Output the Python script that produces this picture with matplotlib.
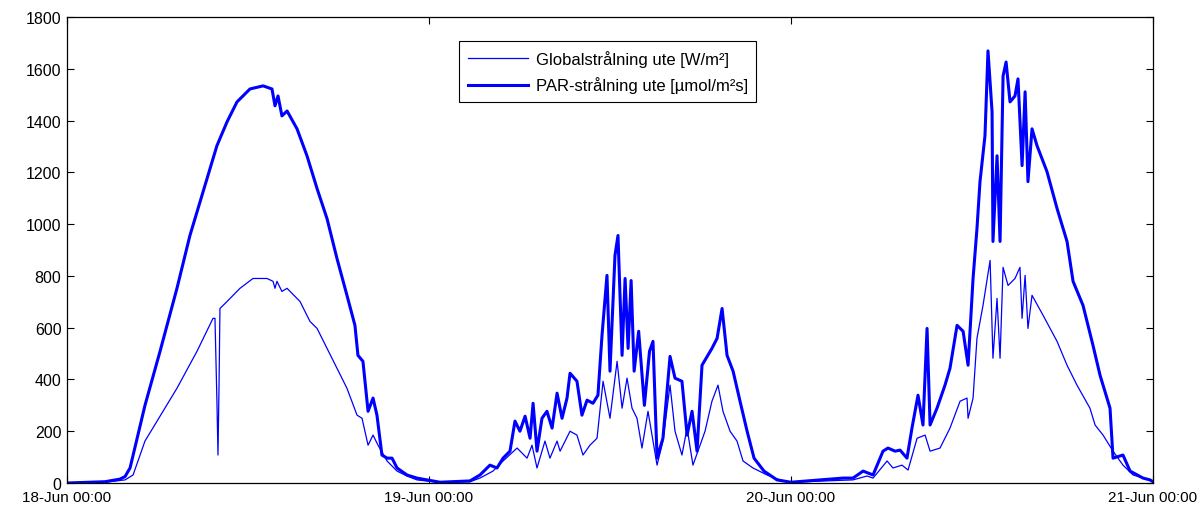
import matplotlib
matplotlib.use('Agg')
import matplotlib.pyplot as plt
import matplotlib.dates as mdates
import numpy as np
import pandas as pd

plt.rcParams['font.family'] = ['Liberation Sans', 'DejaVu Sans']

start = pd.Timestamp('2013-06-18 00:00')

# hours since 18-Jun 00:00
par_h = [0, 2.52, 3.51, 3.85, 4.18, 5.17, 6.17, 7.29, 8.15, 9.02, 9.94, 10.61, 11.27,
         12.13, 13.0, 13.59, 13.79, 13.99, 14.25, 14.59, 15.25, 15.91, 16.58, 17.24,
         17.9, 18.56, 19.09, 19.29, 19.62, 19.96, 20.29, 20.55, 20.88, 21.22, 21.55,
         21.88, 22.54, 23.2, 23.87, 24.73,
         26.72, 27.38, 28.04, 28.51, 28.91, 29.37, 29.7, 30.03, 30.37, 30.7, 30.9, 31.16,
         31.49, 31.82, 32.16, 32.49, 32.82, 33.15, 33.35, 33.81, 34.14, 34.48, 34.87,
         35.2, 35.47, 35.8, 36.0, 36.33, 36.53, 36.8, 37.0, 37.2, 37.4, 37.6, 37.9,
         38.28, 38.62, 38.85, 39.12, 39.51, 39.98, 40.31, 40.77, 41.11, 41.44, 41.77,
         42.1, 42.76, 43.1, 43.43, 43.76, 44.16, 44.62, 45.09, 45.55, 46.21, 47.07, 48.0,
         51.45, 52.11, 52.78, 53.44, 54.1, 54.43, 54.9, 55.23, 55.69, 56.02, 56.42,
         56.75, 57.02, 57.22, 57.68, 58.21, 58.54, 59.01, 59.41, 59.74, 60.07, 60.33,
         60.53, 60.86, 61.06, 61.33, 61.39, 61.66, 61.86, 62.06, 62.26, 62.52, 62.85,
         63.05, 63.32, 63.52, 63.71, 63.98, 64.31, 64.97, 65.64, 66.3, 66.7, 67.36,
         68.02, 68.49, 69.15, 69.35, 70.01, 70.48, 71.34, 71.8, 72.0]
par = [0, 5, 15, 25, 58, 300, 509, 752, 956, 1125, 1303, 1395, 1472,
       1522, 1534, 1522, 1457, 1495, 1418, 1437, 1368, 1264, 1137, 1021,
       867, 725, 609, 493, 470, 277, 328, 262, 108, 96, 96,
       58, 31, 19, 12, 3,
       8, 31, 69, 58, 96, 123, 239, 200, 258, 173, 308, 123,
       250, 277, 212, 347, 250, 328, 424, 393, 262, 320, 308,
       339, 570, 802, 432, 879, 956, 493, 790, 520, 782, 432, 586,
       300, 509, 547, 96, 173, 489, 405, 393, 185, 277, 123,
       455, 520, 559, 674, 493, 432, 316, 200, 96, 46, 12, 3,
       19, 19, 46, 31, 123, 135, 123, 127, 96, 212, 339,
       224, 597, 224, 289, 378, 443, 609, 586, 455, 790, 983,
       1164, 1341, 1669, 1434, 933, 1264, 933, 1572, 1626, 1472, 1495,
       1561, 1226, 1511, 1164, 1368, 1303, 1203, 1060, 933, 779, 686,
       532, 416, 289, 96, 108, 46, 19, 12, 5]

glob_h = [0, 2.52, 3.85, 4.38, 5.17, 5.97, 7.29, 8.62, 9.68, 9.81, 9.94, 10.01, 10.08,
          10.14, 10.61, 11.47, 12.33, 13.26, 13.66, 13.79, 13.92, 14.25, 14.59, 15.45,
          16.11, 16.58, 17.24, 17.9, 18.56, 19.23, 19.56, 19.96, 20.29, 20.62, 21.22,
          21.88, 22.54, 23.2, 24.73,
          26.72, 27.38, 28.24, 28.91, 29.84, 30.5, 30.83, 31.16, 31.69, 32.02, 32.49,
          32.69, 33.35, 33.81, 34.21, 34.67, 35.14, 35.54, 36.0, 36.47, 36.8, 37.13,
          37.46, 37.79, 38.12, 38.52, 39.12, 39.51, 39.98, 40.31, 40.77, 41.11, 41.5,
          41.97, 42.3, 42.76, 43.16, 43.49, 43.96, 44.42, 44.82, 45.48, 46.41, 47.27, 48.0,
          52.11, 53.04, 53.44, 54.37, 54.76, 55.36, 55.76, 56.36, 56.89, 57.22, 57.88,
          58.54, 59.21, 59.67, 59.74, 60.07, 60.33, 60.73, 61.2, 61.39, 61.66, 61.86,
          62.06, 62.39, 62.85, 63.18, 63.32, 63.52, 63.71, 63.98, 64.71, 65.64, 66.3,
          66.96, 67.82, 68.16, 68.69, 69.35, 70.01, 70.68, 71.34, 72.0]
glob = [0, 3, 12, 31, 162, 239, 366, 509, 636, 636, 316, 108, 378,
        674, 701, 752, 790, 790, 779, 752, 779, 740, 752, 701,
        624, 597, 520, 443, 366, 262, 250, 146, 185, 146, 85,
        46, 27, 12, 2,
        5, 19, 46, 85, 135, 96, 146, 58, 162, 96, 162,
        123, 200, 185, 108, 146, 173, 393, 250, 470, 289, 405,
        289, 250, 135, 277, 69, 162, 378, 200, 108, 212, 69,
        146, 200, 316, 378, 277, 200, 162, 85, 58, 31, 12, 3,
        12, 27, 19, 85, 58, 69, 50, 173, 185, 123, 135,
        212, 316, 328, 250, 328, 559, 686, 860, 482, 713, 482,
        833, 763, 790, 833, 636, 802, 597, 725, 648, 547, 455,
        378, 289, 224, 185, 123, 69, 31, 19, 5]

par_t = start + pd.to_timedelta(np.array(par_h), unit='h')
glob_t = start + pd.to_timedelta(np.array(glob_h), unit='h')

fig = plt.figure(figsize=(11.99, 5.06), dpi=100)
ax = fig.add_axes([67/1199, 22/506, (1153-67)/1199, (484-18)/506])

ax.plot(glob_t, glob, color='#0000ff', lw=0.9, label='Globalstrålning ute [W/m²]')
ax.plot(par_t, par, color='#0000ff', lw=2.2, label='PAR-strålning ute [µmol/m²s]')

ax.set_xlim(start, start + pd.Timedelta(hours=72))
ax.set_ylim(0, 1800)
ax.set_yticks(np.arange(0, 1801, 200))
ax.set_xticks([start + pd.Timedelta(days=d) for d in range(4)])
ax.xaxis.set_major_formatter(mdates.DateFormatter('%d-%b %H:%M'))

ax.tick_params(direction='in', top=True, right=True, length=5, width=0.8,
               labelsize=11.5)
ax.tick_params(axis='x', pad=5, labelsize=11)
ax.tick_params(axis='y', pad=4)
for s in ax.spines.values():
    s.set_linewidth(0.9)

leg = ax.legend(loc='upper center', bbox_to_anchor=(0.498, 0.948), fontsize=12,
                fancybox=False, framealpha=1, edgecolor='black', handlelength=3.6,
                borderpad=0.5, labelspacing=0.6, handletextpad=0.5, borderaxespad=0)
leg.get_frame().set_linewidth(0.8)

fig.savefig('out.png', dpi=100)
